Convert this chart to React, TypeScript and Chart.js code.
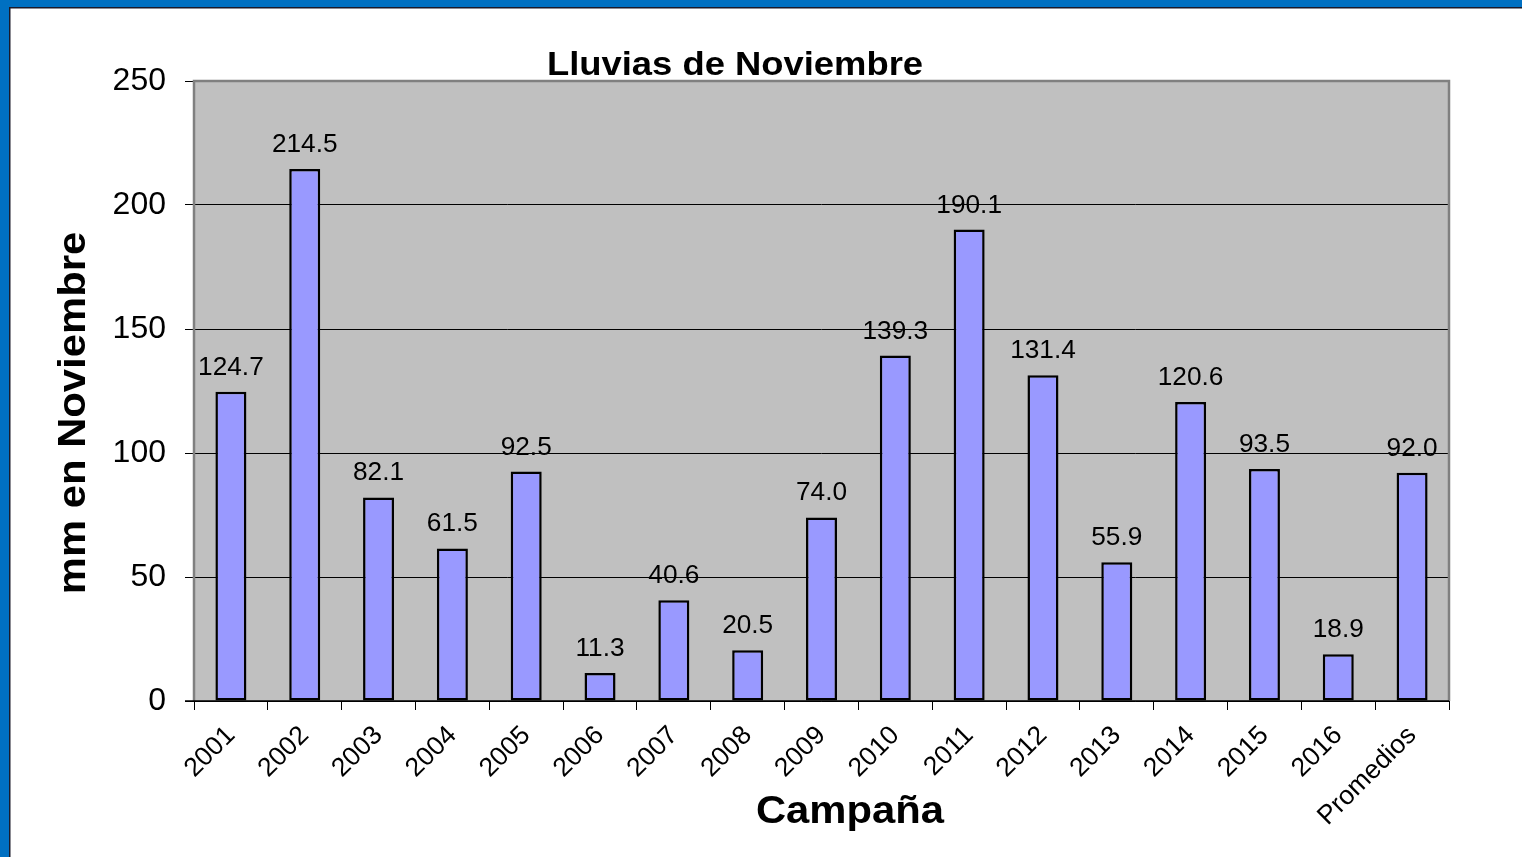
import React, { useEffect, useRef } from "react";
import { Chart, registerables } from "chart.js";

Chart.register(...registerables);

// ---- data ----
const categories = [
  "2001", "2002", "2003", "2004", "2005", "2006", "2007", "2008", "2009",
  "2010", "2011", "2012", "2013", "2014", "2015", "2016", "Promedios",
];
const rainfall = [
  124.7, 214.5, 82.1, 61.5, 92.5, 11.3, 40.6, 20.5, 74.0,
  139.3, 190.1, 131.4, 55.9, 120.6, 93.5, 18.9, 92.0,
];
const yMin = 0;
const yMax = 250;
const yStep = 50;
const chartTitle = "Lluvias de Noviembre";
const xTitle = "Campaña";
const yTitle = "mm en Noviembre";

// ---- layout / style ----
const W = 1522;
const H = 857;
const FONT = "'Liberation Sans', Arial, sans-serif";

function drawStretched(
  ctx: CanvasRenderingContext2D,
  text: string,
  x: number,
  y: number,
  font: string,
  sx: number,
  rot = 0
) {
  ctx.save();
  ctx.translate(x, y);
  if (rot) ctx.rotate(rot);
  ctx.scale(sx, 1);
  ctx.font = font;
  ctx.fillStyle = "#000";
  ctx.textAlign = "center";
  ctx.textBaseline = "alphabetic";
  ctx.fillText(text, 0, 0);
  ctx.restore();
}

const decorPlugin = {
  id: "decor",
  beforeDraw(chart: any) {
    const { ctx, chartArea: a } = chart;
    ctx.save();
    ctx.fillStyle = "#ffffff";
    ctx.fillRect(0, 0, W, H);
    // blue frame
    ctx.fillStyle = "#0070C2";
    ctx.fillRect(0, 0, W, 7);
    ctx.fillRect(0, 0, 9, H);
    ctx.fillStyle = "#1a1a2a";
    ctx.fillRect(9, 7, W - 9, 1.5);
    ctx.fillRect(9, 7, 1.5, H - 7);
    // plot area
    ctx.fillStyle = "#C0C0C0";
    ctx.fillRect(a.left, a.top, a.right - a.left, a.bottom - a.top);
    ctx.restore();
  },
  afterDatasetsDraw(chart: any) {
    const { ctx, chartArea: a } = chart;
    ctx.save();
    // plot border
    ctx.strokeStyle = "#808080";
    ctx.lineWidth = 2.5;
    ctx.beginPath();
    ctx.moveTo(a.left, a.bottom);
    ctx.lineTo(a.left, a.top);
    ctx.lineTo(a.right, a.top);
    ctx.lineTo(a.right, a.bottom);
    ctx.stroke();
    ctx.strokeStyle = "#000";
    ctx.lineWidth = 1.5;
    ctx.beginPath();
    ctx.moveTo(a.left - 9, a.bottom);
    ctx.lineTo(a.right, a.bottom);
    ctx.stroke();
    // data labels
    const meta = chart.getDatasetMeta(0);
    meta.data.forEach((bar: any, i: number) => {
      drawStretched(
        ctx,
        rainfall[i].toFixed(1),
        bar.x,
        bar.y - 17,
        `25px ${FONT}`,
        1.05
      );
    });
    ctx.restore();
  },
  afterDraw(chart: any) {
    const { ctx } = chart;
    drawStretched(ctx, chartTitle, 735, 75, `bold 34px ${FONT}`, 1.07);
    drawStretched(ctx, xTitle, 850, 823, `bold 38px ${FONT}`, 1.1);
    drawStretched(ctx, yTitle, 85, 413, `bold 38px ${FONT}`, 1.1, -Math.PI / 2);
  },
};

export default function App() {
  const ref = useRef<HTMLCanvasElement | null>(null);

  useEffect(() => {
    if (!ref.current) return;
    const chart = new Chart(ref.current, {
      type: "bar",
      data: {
        labels: categories,
        datasets: [
          {
            data: rainfall,
            backgroundColor: "#9999FF",
            borderColor: "#000000",
            borderWidth: 2.5,
            borderSkipped: false,
            categoryPercentage: 1,
            barPercentage: 0.42,
          },
        ],
      },
      options: {
        responsive: false,
        animation: false,
        devicePixelRatio: 1,
        layout: { padding: { left: 0, top: 81, right: 73, bottom: 0 } },
        plugins: {
          legend: { display: false },
          title: { display: false },
          tooltip: { enabled: false },
        },
        scales: {
          x: {
            type: "category",
            offset: true,
            grid: {
              offset: true,
              drawOnChartArea: false,
              drawTicks: true,
              tickLength: 9,
              color: "#000",
              lineWidth: 1,
            },
            border: { display: false },
            ticks: {
              autoSkip: false,
              minRotation: 45,
              maxRotation: 45,
              color: "#000",
              padding: 10,
              font: { family: FONT, size: 26.5 },
            },
            afterFit: (scale: any) => {
              scale.height = 156;
            },
          },
          y: {
            min: yMin,
            max: yMax,
            grid: {
              color: "#000",
              lineWidth: 1,
              drawTicks: true,
              tickLength: 9,
            },
            border: { display: false },
            ticks: {
              stepSize: yStep,
              color: "#000",
              padding: 19,
              font: { family: FONT, size: 32 },
            },
            afterFit: (scale: any) => {
              scale.width = 194;
            },
          },
        },
      },
      plugins: [decorPlugin],
    });
    return () => chart.destroy();
  }, []);

  return (
    <div style={{ position: "fixed", left: 0, top: 0, width: W, height: H, background: "#fff" }}>
      <canvas ref={ref} width={W} height={H} style={{ display: "block", width: W, height: H }} />
    </div>
  );
}
